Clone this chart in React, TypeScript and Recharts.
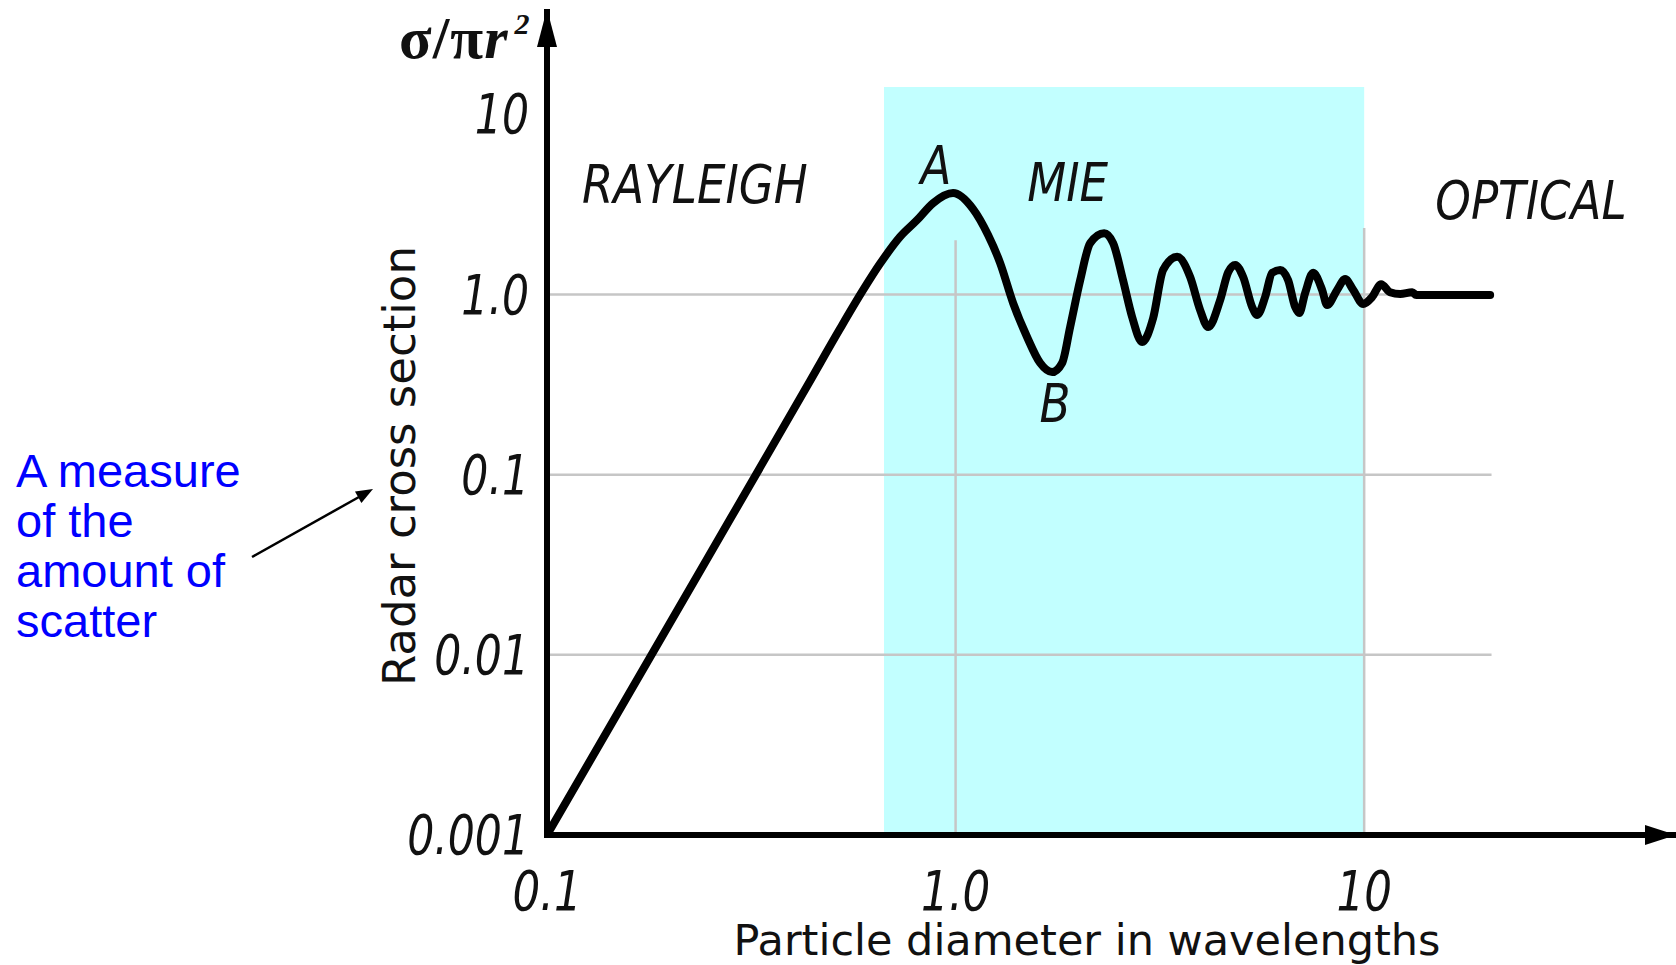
import React from "react"
import {
  LineChart,
  Line,
  XAxis,
  YAxis,
  ReferenceArea,
  ReferenceLine,
  ReferenceDot,
} from "recharts"

// Particle diameter in wavelengths vs sigma / (pi r^2)
const diameter = [
  0.1, 0.237, 0.44, 0.52, 0.594, 0.653, 0.731, 0.805, 0.881, 0.986,
  1.104, 1.201, 1.285, 1.383, 1.496, 1.61, 1.723, 1.823, 1.907, 2.018,
  2.135, 2.31, 2.43, 2.57, 2.705, 2.861, 3.045, 3.221, 3.485, 3.751,
  3.968, 4.151, 4.442, 4.647, 4.834, 5.057, 5.32, 5.472, 5.723, 5.954,
  6.229, 6.516, 6.778, 6.933, 7.171, 7.502, 7.891, 8.116, 8.587, 8.984,
  9.4, 9.945, 10.46, 11.0, 11.57, 12.25, 13.11, 13.41, 20.34,
]
const crossSection = [
  0.001, 0.0292, 0.33, 0.639, 1.06, 1.48, 2.09, 2.59, 3.22, 3.66,
  2.98, 2.14, 1.5, 0.897, 0.581, 0.417, 0.371, 0.417, 0.66, 1.2,
  1.93, 2.19, 1.93, 1.2, 0.75, 0.545, 0.741, 1.37, 1.62, 1.25,
  0.82, 0.66, 0.932, 1.33, 1.46, 1.25, 0.852, 0.77, 0.969, 1.32,
  1.37, 1.2, 0.852, 0.789, 1.02, 1.32, 1.06, 0.874, 1.06, 1.22,
  1.06, 0.886, 0.969, 1.14, 1.03, 1.006, 1.03, 0.994, 0.994,
]

// Axis ticks
const xTicks = [0.1, 1, 10]
const xTickLabels = ["0.1", "1.0", "10"]
const yTicks = [0.001, 0.01, 0.1, 1, 10]
const yTickLabels = ["0.001", "0.01", "0.1", "1.0", "10"]

// Mie region (shaded) and grid extents
const mieRange = [0.668, 10]
const mieTop = 14.2
const gridLevels = [0.01, 0.1, 1]
const gridEnd = 20.5
const vGridX = [1, 10]
const vGridTop = [2.0, 2.34]

// Region / point labels in data coordinates
const regionNames = ["RAYLEIGH", "MIE", "OPTICAL", "A", "B"]
const regionX = [0.23, 1.88, 25.6, 0.895, 1.751]
const regionY = [3.22, 3.3, 2.62, 4.11, 0.196]

const noteLines = ["A measure", "of the", "amount of", "scatter"]

const curve = diameter.map((x, i) => ({ x, y: crossSection[i] }))

const W = 1676
const H = 965
const X_MAX = 57
const Y_MAX = 37

const narrow = "'DejaVu Sans Condensed', 'DejaVu Sans', sans-serif"
const gridColor = "#c6c6c6"

const labelFor = (vals: number[], labels: string[], v: number) => {
  const i = vals.findIndex((t) => Math.abs(t - v) < 1e-9)
  return i >= 0 ? labels[i] : String(v)
}

const XTick = (props: any) => {
  const { x, y, payload } = props
  return (
    <text transform={`translate(${x},${y + 75}) scale(0.88,1)`} textAnchor="middle"
      fontFamily={narrow} fontStyle="italic" fontSize={55} fill="#111">
      {labelFor(xTicks, xTickLabels, payload.value)}
    </text>
  )
}

const YTick = (props: any) => {
  const { x, y, payload } = props
  return (
    <text transform={`translate(${x - 18},${y + 19}) scale(0.86,1)`} textAnchor="end"
      fontFamily={narrow} fontStyle="italic" fontSize={55} fill="#111">
      {labelFor(yTicks, yTickLabels, payload.value)}
    </text>
  )
}

const UpArrow = (props: any) => {
  const { cx, cy } = props
  return <polygon points={`${cx},${cy - 3} ${cx + 10},${cy + 35} ${cx - 10},${cy + 35}`} fill="#000" />
}

const RightArrow = (props: any) => {
  const { cx, cy } = props
  return <polygon points={`${cx + 3},${cy} ${cx - 28},${cy - 10} ${cx - 28},${cy + 10}`} fill="#000" />
}

const makeText = (text: string) => (props: any) => (
  <text transform={`translate(${props.cx},${props.cy}) scale(0.93,1)`} textAnchor="middle"
    fontFamily={narrow} fontStyle="italic" fontSize={54} fill="#111">
    {text}
  </text>
)

export default function App() {
  return (
    <div style={{ position: "absolute", left: 0, top: 0, width: W, height: H, background: "#fff" }}>
      <LineChart width={W} height={H} data={curve} margin={{ top: 12, right: 3, bottom: 0, left: 0 }}>
        <ReferenceArea
          x1={mieRange[0]} x2={mieRange[1]} y1={0.001} y2={mieTop}
          fill="#c2ffff" fillOpacity={1} stroke="none" ifOverflow="visible"
          zIndex={-300}
        />
        {gridLevels.map((lv) => (
          <ReferenceLine key={"h" + lv} segment={[{ x: 0.1, y: lv }, { x: gridEnd, y: lv }]}
            stroke={gridColor} strokeWidth={2.5} ifOverflow="visible" zIndex={-200} />
        ))}
        {vGridX.map((vx, i) => (
          <ReferenceLine key={"v" + vx} segment={[{ x: vx, y: 0.001 }, { x: vx, y: vGridTop[i] }]}
            stroke={gridColor} strokeWidth={2.5} ifOverflow="visible" zIndex={-200} />
        ))}
        <XAxis
          dataKey="x" type="number" scale="log" domain={[0.1, X_MAX]} allowDataOverflow
          ticks={xTicks} interval={0} tick={(p: any) => <XTick {...p} />}
          tickLine={false} tickSize={0} tickMargin={0} height={130}
          axisLine={{ stroke: "#000", strokeWidth: 6, strokeLinecap: "square" }}
        />
        <YAxis
          type="number" scale="log" domain={[0.001, Y_MAX]} allowDataOverflow
          ticks={yTicks} interval={0} tick={(p: any) => <YTick {...p} />}
          tickLine={false} tickSize={0} tickMargin={0} width={547}
          axisLine={{ stroke: "#000", strokeWidth: 6, strokeLinecap: "square" }}
        />
        <Line
          type="monotone" dataKey="y" stroke="#000" strokeWidth={8} dot={false}
          strokeLinejoin="round" strokeLinecap="round" isAnimationActive={false}
        />
        <ReferenceDot x={0.1} y={Y_MAX} r={0} shape={UpArrow} ifOverflow="visible" />
        <ReferenceDot x={X_MAX} y={0.001} r={0} shape={RightArrow} ifOverflow="visible" />
        {regionNames.map((name, i) => (
          <ReferenceDot key={name} x={regionX[i]} y={regionY[i]} r={0}
            shape={makeText(name)} ifOverflow="visible" />
        ))}
      </LineChart>

      <svg width={W} height={H} style={{ position: "absolute", left: 0, top: 0, pointerEvents: "none" }}>
        {/* y axis title */}
        <text x={399} y={58} fontFamily="'Liberation Serif', 'DejaVu Serif', serif" fontWeight="bold"
          fontSize={60} letterSpacing={1} fill="#111">
          σ/π<tspan fontStyle="italic">r</tspan>
          <tspan fontStyle="italic" fontSize={30} dx={6} dy={-24}>2</tspan>
        </text>
        <text transform="translate(415,466) rotate(-90)" textAnchor="middle"
          fontFamily="'DejaVu Sans', sans-serif" fontSize={45} fill="#111">
          Radar cross section
        </text>
        {/* x axis title */}
        <text x={1087} y={955} textAnchor="middle" fontFamily="'DejaVu Sans', sans-serif"
          fontSize={43} fill="#111">
          Particle diameter in wavelengths
        </text>
        {/* annotation */}
        {noteLines.map((line, i) => (
          <text key={line} x={16} y={487 + i * 50} fontFamily="'Liberation Sans', Arial, sans-serif"
            fontSize={47} fill="#0000ff">
            {line}
          </text>
        ))}
        <line x1={252} y1={557} x2={359} y2={497} stroke="#000" strokeWidth={2.5} />
        <polygon points="373,489 361.4,503 355,491.6" fill="#000" />
      </svg>
    </div>
  )
}
